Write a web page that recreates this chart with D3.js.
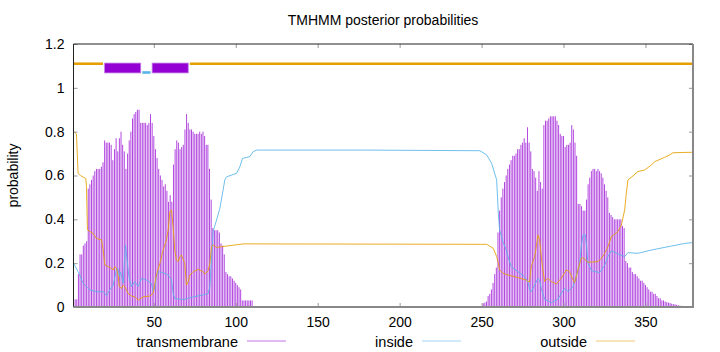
<!DOCTYPE html>
<html lang="en">
<head>
<meta charset="utf-8">
<script src="https://d3js.org/d3.v7.min.js"></script>
<style>
  body { margin: 0; background: #fff; }
  text { font-family: "Liberation Sans", Arial, sans-serif; fill: #000; }
</style>
</head>
<body>
<script>
const title = "TMHMM posterior probabilities";
const yLabel = "probability";
const seriesNames = ["transmembrane", "inside", "outside"];
const xTicks = [50, 100, 150, 200, 250, 300, 350];
const yTicks = [0, 0.2, 0.4, 0.6, 0.8, 1, 1.2];
const xMin = 1, xMax = 379;

// transmembrane probability per residue (two stretches, the rest is zero)
const tmStart1 = 1;
const tmValues1 = [
  0.01, 0.035, 0.035, 0.15, 0.24, 0.24, 0.28, 0.29, 0.30, 0.54,
  0.56, 0.58, 0.60, 0.62, 0.63, 0.63, 0.63, 0.64, 0.66, 0.76,
  0.75, 0.75, 0.75, 0.74, 0.67, 0.72, 0.77, 0.71, 0.77, 0.80,
  0.74, 0.71, 0.63, 0.70, 0.76, 0.80, 0.86, 0.88, 0.89, 0.90,
  0.90, 0.84, 0.84, 0.84, 0.84, 0.83, 0.84, 0.88, 0.84, 0.78,
  0.72, 0.68, 0.63, 0.60, 0.58, 0.55, 0.56, 0.53, 0.48, 0.51,
  0.48, 0.65, 0.72, 0.76, 0.75, 0.72, 0.73, 0.74, 0.81, 0.88,
  0.84, 0.81, 0.81, 0.80, 0.79, 0.79, 0.79, 0.80, 0.79, 0.80,
  0.78, 0.74, 0.74, 0.63, 0.49, 0.36, 0.35, 0.35, 0.35, 0.34,
  0.29, 0.28, 0.24, 0.16, 0.15, 0.14, 0.14, 0.13, 0.12, 0.11,
  0.10, 0.09, 0.08, 0.03, 0.03, 0.03, 0.03, 0.03, 0.03, 0.03
];
const tmStart2 = 251;
const tmValues2 = [
  0.017, 0.02, 0.025, 0.05, 0.06, 0.08, 0.11, 0.15, 0.18, 0.34,
  0.44, 0.50, 0.54, 0.57, 0.60, 0.63, 0.65, 0.67, 0.69, 0.69,
  0.70, 0.72, 0.72, 0.74, 0.75, 0.77, 0.75, 0.82, 0.75, 0.71,
  0.63, 0.62, 0.59, 0.53, 0.62, 0.57, 0.54, 0.83, 0.85, 0.85,
  0.86, 0.87, 0.87, 0.87, 0.87, 0.85, 0.83, 0.79, 0.78, 0.78,
  0.73, 0.74, 0.74, 0.75, 0.83, 0.81, 0.75, 0.69, 0.47, 0.47,
  0.46, 0.44, 0.44, 0.49, 0.56, 0.59, 0.62, 0.63, 0.63, 0.62,
  0.63, 0.62, 0.61, 0.59, 0.56, 0.53, 0.50, 0.43, 0.42, 0.41,
  0.40, 0.40, 0.40, 0.40, 0.40, 0.37, 0.36, 0.21, 0.20, 0.18,
  0.18, 0.16, 0.15, 0.15, 0.14, 0.13, 0.12, 0.12, 0.11, 0.10,
  0.09, 0.08, 0.07, 0.07, 0.06, 0.06, 0.05, 0.04, 0.04, 0.03,
  0.03, 0.025, 0.022, 0.02, 0.018, 0.015, 0.013, 0.012, 0.01, 0.008,
  0.006, 0.005, 0.004, 0.003, 0.002, 0.002, 0.001, 0.001, 0.001
];

// inside probability (residue, value)
const insidePos = [1, 3.8, 4.8, 6.9, 8.9, 10.9, 15, 19.1, 21.1, 23.2, 25.2, 27.2, 28.2, 28.9, 29.7,
  31.3, 32.7, 33.7, 34.8, 36.4, 38.4, 40.5, 42.5, 45.5, 48.6, 49.6, 50.6, 51.6, 52.7, 55.7,
  58.8, 60.8, 61.8, 62.8, 67.9, 74, 80.1, 83.2, 84.2, 85.2, 86.2, 88.3, 90.3, 92.3, 93.3,
  94.4, 100.5, 102.5, 104.1, 108.6, 110.6, 112.7, 177.8, 249, 253.1, 256.1, 259.2, 260.2, 261,
  263, 265.1, 266.1, 268.1, 272.2, 276.3, 278.3, 279.3, 280.3, 282.4, 284.4, 285.4, 286.4, 288.5,
  292.5, 296.6, 298.6, 300.7, 302.7, 305.8, 306.8, 308.8, 309.8, 310.8, 311.9, 313.3, 314.1, 314.9,
  317, 322, 325.1, 327.1, 329.2, 333.2, 337.3, 339.3, 345.4, 353.6, 365.8, 373.9, 379];
const insideVal = [0.20, 0.161, 0.146, 0.108, 0.093, 0.078, 0.07, 0.07, 0.052, 0.078, 0.10, 0.169, 0.176, 0.14, 0.16,
  0.108, 0.283, 0.214, 0.14, 0.093, 0.116, 0.093, 0.131, 0.123, 0.108, 0.07, 0.085, 0.14, 0.161, 0.157,
  0.146, 0.123, 0.062, 0.039, 0.034, 0.046, 0.055, 0.062, 0.093, 0.214, 0.344, 0.397, 0.45, 0.534, 0.58,
  0.594, 0.61, 0.64, 0.678, 0.686, 0.709, 0.716, 0.716, 0.713, 0.694, 0.656, 0.58, 0.428, 0.351,
  0.298, 0.26, 0.23, 0.184, 0.161, 0.138, 0.116, 0.078, 0.07, 0.10, 0.13, 0.123, 0.085, 0.035,
  0.02, 0.035, 0.062, 0.085, 0.07, 0.093, 0.116, 0.169, 0.20, 0.275, 0.329, 0.329, 0.275, 0.20,
  0.166, 0.157, 0.19, 0.23, 0.257, 0.242, 0.23, 0.248, 0.245, 0.26, 0.278, 0.29, 0.294];

// outside probability (residue, value)
const outsidePos = [1, 2.8, 3.8, 5.2, 8.5, 8.9, 9.5, 12.9, 15, 18.1, 19.1, 20.1, 24.2, 25.2, 26.2,
  27.2, 28.2, 28.9, 30.3, 31.3, 32.3, 33.3, 34.3, 36.4, 38.4, 40.5, 43.5, 47.6, 49.6, 51.6,
  53.7, 55.7, 57.7, 58.8, 59.8, 60.8, 61.8, 62.8, 63.8, 64.9, 65.9, 66.9, 68.9, 69.9, 71,
  72, 74, 77.1, 80.1, 81.1, 83.2, 84.2, 85.2, 86.2, 88.3, 94.4, 102.5, 104.5, 253.1, 257.1,
  259.2, 260.2, 261, 263, 266.1, 272.2, 277.3, 278.3, 279.3, 280.3, 282.4, 283.4, 284.4, 285.4,
  286.4, 287.4, 288.5, 290.5, 292.5, 295.6, 298.6, 301.7, 303.7, 305.8, 306.8, 308.8, 310.8, 311.9,
  314.9, 321, 323.1, 325.1, 327.1, 329.2, 333.2, 335.3, 337.3, 338.3, 339.3, 342.4, 345.4, 349.5,
  353.6, 355.6, 361.7, 364.8, 366.8, 379];
const outsideVal = [0.80, 0.79, 0.61, 0.60, 0.586, 0.549, 0.352, 0.336, 0.313, 0.306, 0.26, 0.192, 0.176, 0.169, 0.184,
  0.176, 0.146, 0.093, 0.085, 0.10, 0.093, 0.078, 0.062, 0.05, 0.046, 0.032, 0.046, 0.05, 0.062, 0.146,
  0.199, 0.26, 0.306, 0.352, 0.435, 0.443, 0.366, 0.26, 0.214, 0.207, 0.23, 0.237, 0.199, 0.10, 0.116,
  0.146, 0.161, 0.172, 0.161, 0.15, 0.166, 0.199, 0.275, 0.283, 0.272, 0.278, 0.286, 0.288, 0.286, 0.268,
  0.23, 0.20, 0.169, 0.154, 0.146, 0.134, 0.123, 0.116, 0.116, 0.184, 0.23, 0.275, 0.329, 0.306,
  0.23, 0.169, 0.116, 0.131, 0.116, 0.105, 0.131, 0.169, 0.161, 0.123, 0.111, 0.169, 0.222, 0.225,
  0.204, 0.207, 0.222, 0.245, 0.275, 0.321, 0.344, 0.374, 0.443, 0.519, 0.58, 0.598, 0.618, 0.625,
  0.648, 0.663, 0.683, 0.694, 0.704, 0.706];

// predicted topology
const topoType = ["outside", "TMhelix", "inside", "TMhelix", "outside"];
const topoStart = [1, 20, 43, 49, 72];
const topoEnd = [19, 42, 48, 71, 379];

const colors = { transmembrane: "#9400d3", inside: "#56b4e9", outside: "#e69f00" };

const width = 720, height = 352;
const plot = { left: 73.5, right: 693, top: 44, bottom: 307 };

const svg = d3.select("body").append("svg")
  .attr("width", width)
  .attr("height", height);

const x = d3.scaleLinear().domain([xMin, xMax]).range([plot.left, plot.right]);
const y = d3.scaleLinear().domain([0, 1.2]).range([plot.bottom, plot.top]);

// title and y label
svg.append("text")
  .attr("x", 383).attr("y", 25)
  .attr("text-anchor", "middle")
  .style("font-size", "14px")
  .text(title);

svg.append("text")
  .attr("transform", "translate(18," + ((plot.top + plot.bottom) / 2) + ") rotate(-90)")
  .attr("text-anchor", "middle")
  .style("font-size", "14px")
  .text(yLabel);

// impulses
const tmData = [];
tmValues1.forEach((v, i) => tmData.push({ pos: tmStart1 + i, v: v }));
tmValues2.forEach((v, i) => tmData.push({ pos: tmStart2 + i, v: v }));

svg.append("g").selectAll("line")
  .data(tmData)
  .enter()
  .append("line")
  .attr("x1", d => x(d.pos)).attr("x2", d => x(d.pos))
  .attr("y1", y(0)).attr("y2", d => y(d.v))
  .attr("stroke", colors.transmembrane)
  .attr("stroke-opacity", 0.72)
  .attr("stroke-width", 1);

// inside / outside curves
const line = d3.line().x(d => x(d[0])).y(d => y(d[1]));
svg.append("path")
  .datum(insidePos.map((p, i) => [p, insideVal[i]]))
  .attr("d", line)
  .attr("fill", "none")
  .attr("stroke", colors.inside)
  .attr("stroke-opacity", 0.85)
  .attr("stroke-width", 1);
svg.append("path")
  .datum(outsidePos.map((p, i) => [p, outsideVal[i]]))
  .attr("d", line)
  .attr("fill", "none")
  .attr("stroke", colors.outside)
  .attr("stroke-opacity", 0.85)
  .attr("stroke-width", 1);

// topology bar on top
const topo = svg.append("g");
topoType.forEach((t, i) => {
  const x0 = Math.max(plot.left, x(topoStart[i] - 0.5) + 0.8);
  const x1 = Math.min(plot.right, x(topoEnd[i] + 0.5) - 0.8);
  if (t === "TMhelix") {
    topo.append("rect")
      .attr("x", x0).attr("y", y(1.113))
      .attr("width", x1 - x0).attr("height", y(1.068) - y(1.113))
      .attr("fill", colors.transmembrane)
      .attr("stroke", "#c27ce6").attr("stroke-width", 0.8);
  } else {
    const lv = t === "outside" ? 1.11 : 1.07;
    topo.append("line")
      .attr("x1", x0).attr("x2", x1)
      .attr("y1", y(lv)).attr("y2", y(lv))
      .attr("stroke", colors[t])
      .attr("stroke-width", 2.6);
  }
});

// axes with inward ticks
const axisStyle = g => {
  g.select(".domain").remove();
  g.selectAll(".tick line").attr("stroke", "#999");
  g.selectAll("text").style("font-size", "14px").style("font-family", "Liberation Sans, Arial, sans-serif");
};

svg.append("g")
  .attr("transform", "translate(" + plot.left + ",0)")
  .call(d3.axisLeft(y).tickValues(yTicks).tickFormat(d3.format("~g")).tickSizeInner(-4).tickSizeOuter(0).tickPadding(9))
  .call(axisStyle);
svg.append("g")
  .attr("transform", "translate(" + plot.right + ",0)")
  .call(d3.axisRight(y).tickValues(yTicks).tickFormat("").tickSizeInner(-4).tickSizeOuter(0))
  .call(axisStyle);
svg.append("g")
  .attr("transform", "translate(0," + plot.bottom + ")")
  .call(d3.axisBottom(x).tickValues(xTicks).tickSizeInner(-4).tickSizeOuter(0).tickPadding(10))
  .call(axisStyle);
svg.append("g")
  .attr("transform", "translate(0," + plot.top + ")")
  .call(d3.axisTop(x).tickValues(xTicks).tickFormat("").tickSizeInner(-4).tickSizeOuter(0))
  .call(axisStyle);

// border: dark left/top, grey right/bottom
svg.append("path")
  .attr("d", "M" + plot.left + "," + plot.bottom + "V" + plot.top + "H" + plot.right)
  .attr("fill", "none").attr("stroke", "#222").attr("stroke-width", 1);
svg.append("path")
  .attr("d", "M" + plot.left + "," + plot.bottom + "H" + plot.right + "V" + plot.top)
  .attr("fill", "none").attr("stroke", "#888").attr("stroke-width", 2);

// legend
const legendTextEnd = [238, 413, 587];
const legend = svg.append("g");
seriesNames.forEach((name, i) => {
  legend.append("text")
    .attr("x", legendTextEnd[i]).attr("y", 347)
    .attr("text-anchor", "end")
    .style("font-size", "14.5px")
    .text(name);
  legend.append("line")
    .attr("x1", legendTextEnd[i] + 9).attr("x2", legendTextEnd[i] + 48)
    .attr("y1", 341).attr("y2", 341)
    .attr("stroke", colors[name])
    .attr("stroke-opacity", 0.55)
    .attr("stroke-width", 1);
});
</script>
</body>
</html>
